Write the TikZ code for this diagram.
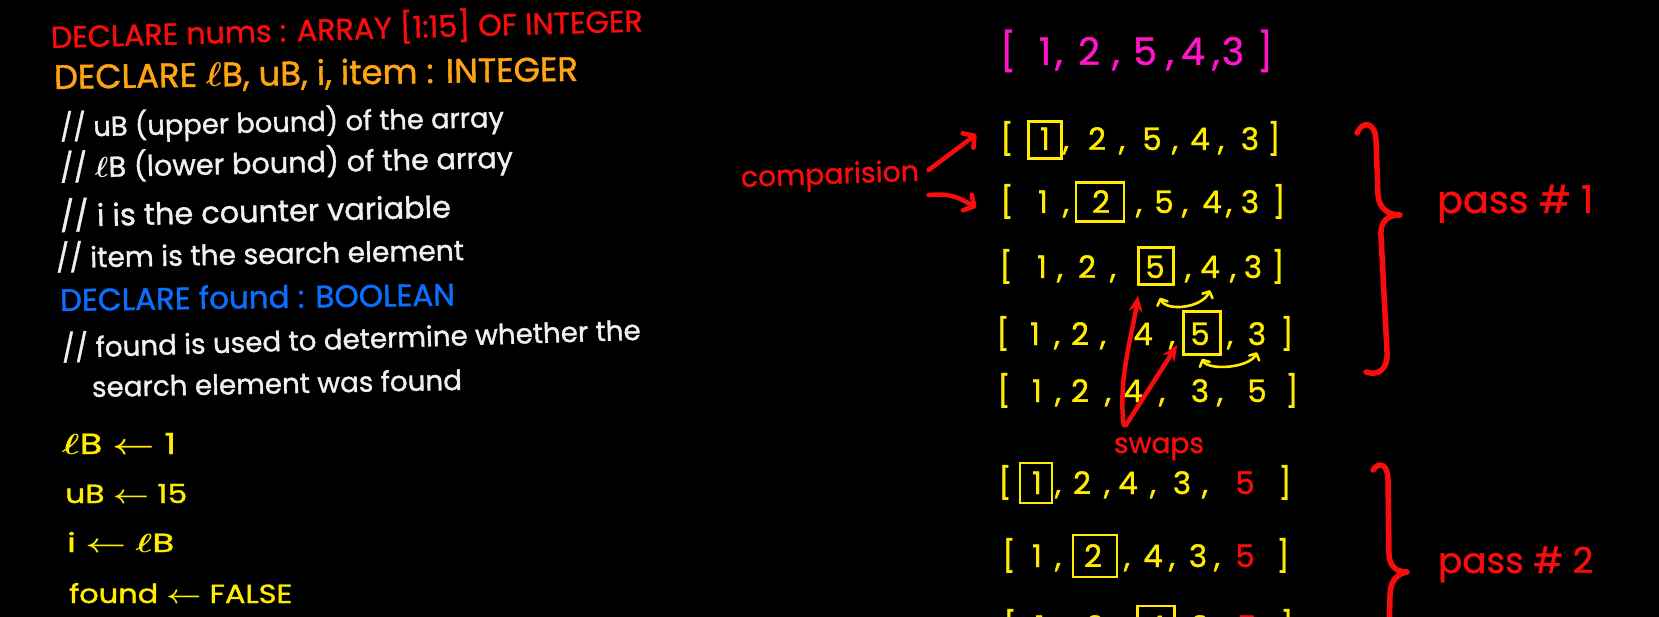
\documentclass[tikz,border=0pt]{standalone}
\usepackage{amsmath}
\usepackage{fontspec}
\setmainfont{Poppins}[FakeBold=1.2]
\usetikzlibrary{arrows.meta}
\definecolor{myred}{RGB}{250,12,12}
\definecolor{myorange}{RGB}{255,165,20}
\definecolor{mywhite}{RGB}{240,240,240}
\definecolor{myblue}{RGB}{10,110,255}
\definecolor{myyellow}{RGB}{255,236,0}
\definecolor{mymag}{RGB}{255,20,200}
\newcommand\cma{,}
\newcommand\rfive{\textcolor{myred}{5}}
\newcommand\fitw[2]{\resizebox{#1pt}{!}{#2}}
\newcommand\fitwh[3]{\resizebox{#1pt}{#2pt}{#3}}
\newcommand\arrayrow[4]{%
  \foreach \xx/\tk [count=\kk] in {#4} {\node[#3] (#1-\kk) at (\xx,#2) {\tk};}}
\tikzset{
  code/.style={anchor=base west, inner sep=0pt},
  tok/.style={anchor=base, inner sep=0pt, text=myyellow, font=\fontsize{31}{36}\selectfont},
  magtok/.style={tok, text=mymag, font=\fontsize{38}{44}\selectfont},
  hlbox/.style={draw=myyellow, line width=2.6pt, rectangle, inner sep=0pt},
  cmparrow/.style={draw=myred, line width=4.5pt, line cap=round,
    -{Straight Barb[length=8pt,width=18pt,round]}},
  swparrow/.style={draw=myred, line width=4.5pt, line cap=round,
    -{Stealth[length=16pt,width=14pt]}},
  xchg/.style={draw=myyellow, line width=2.6pt, line cap=round,
    {Straight Barb[length=5pt,width=11pt,round]}-{Straight Barb[length=5pt,width=11pt,round]}},
  bracestyle/.style={draw=myred, line width=5.5pt, line cap=round, line join=round},
  lbl/.style={inner sep=0pt, text=myred}
}
\begin{document}
\begin{tikzpicture}[x=1pt,y=-1pt]
\fill[black] (0,0) rectangle (1659,617);
\clip (0,0) rectangle (1659,617);

% ---- left: declarations ----
\node[code,text=myred,rotate=1.6] (l1) at (51,48) {\fitw{592}{DECLARE nums : ARRAY [1:15] OF INTEGER}};
\node[code,text=myorange,rotate=0.9] (l2) at (54,89) {\fitw{524}{DECLARE $\boldsymbol{\ell}$B, uB, i, item : INTEGER}};
\node[code,text=mywhite,rotate=1.3] (l3) at (60,137) {\fitw{444}{// uB (upper bound) of the array}};
\node[code,text=mywhite,rotate=1.3] (l4) at (60,178) {\fitw{453}{// $\boldsymbol{\ell}$B (lower bound) of the array}};
\node[code,text=mywhite,rotate=1.4] (l5) at (60,227) {\fitw{391}{// i is the counter variable}};
\node[code,text=mywhite,rotate=1.1] (l6) at (56,268) {\fitw{408}{// item is the search element}};
\node[code,text=myblue,rotate=0.8] (l7) at (60,311) {\fitw{395}{DECLARE found : BOOLEAN}};
\node[code,text=mywhite,rotate=1.8] (l8) at (62,358) {\fitw{579}{// found is used to determine whether the}};
\node[code,text=mywhite,rotate=1.1] (l9) at (92,397) {\fitw{370}{search element was found}};
\node[code,text=myyellow] (a1) at (62,454) {\fitwh{114}{21}{$\boldsymbol{\ell}$B $\boldsymbol{\leftarrow}$ 1}};
\node[code,text=myyellow] (a2) at (65,503) {\fitwh{122}{19}{uB $\boldsymbol{\leftarrow}$ 15}};
\node[code,text=myyellow] (a3) at (67,552) {\fitwh{107}{20}{i $\boldsymbol{\leftarrow}$ $\boldsymbol{\ell}$B}};
\node[code,text=myyellow] (a4) at (69,603) {\fitwh{223}{20}{found $\boldsymbol{\leftarrow}$ FALSE}};

% ---- right: arrays ----
\arrayrow{r0}{65}{magtok}{1008/[,1045/1,1059/\cma,1089/2,1116/\cma,1145/5,1170/\cma,1193/4,1216/\cma,1233/3,1265/]}
\arrayrow{r1}{150}{tok}{1007/[,1045/1,1066/\cma,1097/2,1122/\cma,1152/5,1175/\cma,1200/4,1221/\cma,1250/3,1274/]}
\arrayrow{r2}{213}{tok}{1007/[,1043/1,1066/\cma,1101/2,1139/\cma,1164/5,1185/\cma,1212/4,1229/\cma,1250/3,1279/]}
\arrayrow{r3}{278}{tok}{1006/[,1042/1,1060/\cma,1087/2,1113/\cma,1155/5,1188/\cma,1210/4,1233/\cma,1253/3,1278/]}
\arrayrow{r4}{345}{tok}{1003/[,1035/1,1057/\cma,1080/2,1103/\cma,1143/4,1172/\cma,1200/5,1230/\cma,1257/3,1287/]}
\arrayrow{r5}{402}{tok}{1004/[,1037/1,1058/\cma,1080/2,1108/\cma,1133/4,1162/\cma,1200/3,1220/\cma,1257/5,1292/]}
\arrayrow{r6}{494}{tok}{1005/[,1037/1,1058/\cma,1082/2,1107/\cma,1128/4,1153/\cma,1182/3,1205/\cma,1245/\rfive,1285/]}
\arrayrow{r7}{567}{tok}{1009/[,1037/1,1058/\cma,1093/2,1127/\cma,1153/4,1172/\cma,1198/3,1217/\cma,1245/\rfive,1283/]}
\arrayrow{r8}{638}{tok}{1010/[,1040/1,1062/\cma,1095/2,1120/\cma,1156/4,1182/\cma,1200/3,1222/\cma,1247/\rfive,1287/]}

% highlight boxes
\node[hlbox, minimum width=33pt, minimum height=37pt] (b1) at (1045,140) {};
\node[hlbox, minimum width=48pt, minimum height=39pt] (b2) at (1100,202) {};
\node[hlbox, minimum width=35pt, minimum height=37pt] (b3) at (1156,266) {};
\node[hlbox, minimum width=37pt, minimum height=43pt] (b4) at (1202,333) {};
\node[hlbox, minimum width=32pt, minimum height=40pt] (b6) at (1036,483) {};
\node[hlbox, minimum width=44pt, minimum height=42pt] (b7) at (1095,556) {};
\node[hlbox, minimum width=37pt, minimum height=42pt] (b8) at (1156,627) {};

% comparison label and arrows
\node[lbl, anchor=base west, rotate=2] (comp) at (741,187) {\fitw{178}{comparision}};
\draw[cmparrow] ([xshift=10pt,yshift=-11pt]comp.north east) -- ([xshift=-24pt,yshift=4pt]r1-1.west);
\draw[cmparrow] ([xshift=10pt,yshift=-36pt]comp.north east)
  .. controls +(22,-2) and +(-18,-10) .. ([xshift=-24pt,yshift=-6pt]r2-1.west);

% swaps label and arrows
\node[lbl, anchor=base] (sw) at (1159,453) {\fitw{90}{swaps}};
\draw[swparrow] ([xshift=10pt,yshift=12pt]sw.north west)
  .. controls +(-6,-45) and +(-6,40) .. ([xshift=-18pt,yshift=-10pt]b3.south);
\draw[swparrow] ([xshift=12pt,yshift=12pt]sw.north west) -- ([xshift=-5pt,yshift=-12pt]b4.west);

% exchange arrows
\draw[xchg] ([xshift=4pt,yshift=-12pt]b3.south) .. controls +(6,14) and +(-8,18) .. ([yshift=-12pt]r3-8.south);
\draw[xchg] ([yshift=-3pt]b4.south) .. controls +(6,12) and +(-8,16) .. ([yshift=-7pt]r4-10.south);

% braces
\draw[bracestyle] (1357,133) .. controls (1362,121) and (1375,121) .. (1376,140)
  -- (1378,195) .. controls (1379,209) and (1389,215) .. (1400,215)
  .. controls (1388,215) and (1380,221) .. (1381,236)
  -- (1387,352) .. controls (1388,370) and (1378,376) .. (1366,372);
\draw[bracestyle] (1373,470) .. controls (1379,461) and (1388,464) .. (1388,480)
  -- (1389,555) .. controls (1390,568) and (1398,572) .. (1407,572)
  .. controls (1396,574) and (1390,582) .. (1390,596) -- (1389,640);
\node[lbl, anchor=base west] (p1) at (1437,213) {\fitw{156}{pass \# 1}};
\node[lbl, anchor=base west] (p2) at (1438,573) {\fitw{155}{pass \# 2}};
\end{tikzpicture}
\end{document}
